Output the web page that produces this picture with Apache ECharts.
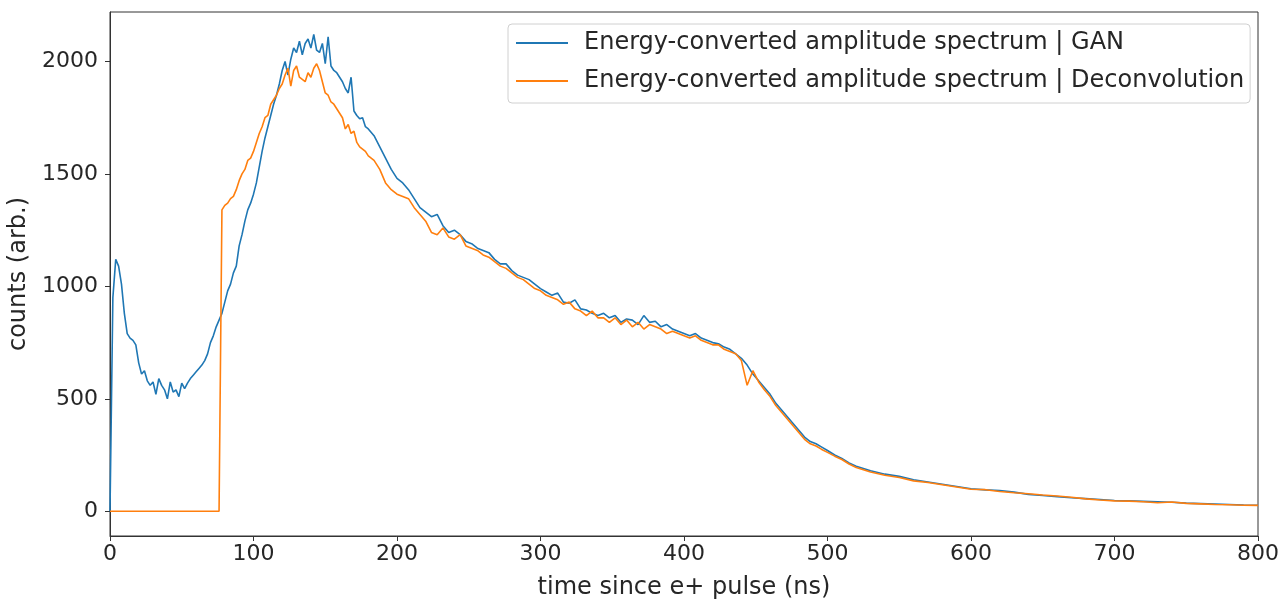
<!DOCTYPE html>
<html>
<head>
<meta charset="utf-8">
<script src="https://cdn.jsdelivr.net/npm/echarts@6/dist/echarts.min.js"></script>
<style>html,body{margin:0;padding:0;background:#fff}#c{width:1286px;height:601px}</style>
</head>
<body>
<div id="c"></div>
<script>
const time = [0,2,4,6,8,10,12,14,16,18,20,22,24,26,28,30,32,34,36,38,40,42,44,46,48,50,52,54,56,58,60,62,64,66,68,70,72,74,76,78,80,82,84,86,88,90,92,94,96,98,100,102,104,106,108,110,112,114,116,118,120,122,124,126,128,130,132,134,136,138,140,142,144,146,148,150,152,154,156,158,160,162,164,166,168,170,172,174,176,178,180,184,188,192,196,200,204,208,212,216,220,224,228,232,236,240,244,248,252,256,260,264,268,272,276,280,284,288,292,296,300,304,308,312,316,320,324,328,332,336,340,344,348,352,356,360,364,368,372,376,380,384,388,392,396,400,404,408,412,416,420,424,428,432,436,440,444,448,452,456,460,464,468,472,476,480,484,488,492,496,500,505,510,515,520,525,530,540,550,560,570,580,590,600,610,620,630,640,650,660,670,680,690,700,710,720,730,740,750,760,770,780,790,800];
const gan = [0,950,1120,1090,1010,880,790,770,760,740,660,610,625,580,560,575,520,590,560,540,500,575,530,540,510,570,545,570,590,605,620,635,650,670,700,750,780,820,850,880,930,980,1010,1060,1090,1180,1230,1290,1340,1370,1410,1460,1530,1600,1660,1710,1760,1810,1850,1900,1960,2000,1940,2010,2060,2040,2090,2030,2080,2100,2060,2120,2050,2040,2080,1990,2110,1980,1960,1950,1930,1910,1880,1860,1930,1780,1760,1745,1750,1710,1700,1670,1620,1570,1520,1480,1460,1430,1390,1350,1330,1310,1320,1270,1240,1250,1230,1200,1190,1170,1160,1150,1120,1100,1100,1070,1050,1040,1030,1010,990,975,960,970,930,925,940,900,895,880,870,880,860,870,840,855,850,830,870,840,845,820,830,810,800,790,780,790,770,760,750,745,730,720,700,680,650,610,580,550,520,480,450,420,390,360,330,310,300,285,270,250,235,215,200,190,180,165,155,140,130,120,110,100,95,92,85,75,70,65,60,56,52,48,46,44,42,40,36,34,32,30,28,27];
const deconv = [0,0,0,0,0,0,0,0,0,0,0,0,0,0,0,0,0,0,0,0,0,0,0,0,0,0,0,0,0,0,0,0,0,0,0,0,0,0,0,1340,1360,1370,1390,1400,1430,1470,1500,1520,1560,1570,1600,1640,1680,1710,1750,1760,1810,1830,1850,1880,1900,1940,1970,1890,1960,1980,1930,1920,1910,1950,1930,1970,1990,1960,1910,1860,1850,1820,1810,1790,1770,1750,1700,1720,1680,1690,1640,1620,1610,1600,1580,1560,1520,1460,1430,1410,1400,1390,1350,1320,1290,1240,1230,1260,1220,1210,1230,1180,1170,1160,1140,1130,1110,1090,1080,1060,1040,1030,1010,990,980,960,950,940,920,930,900,890,870,890,860,860,840,860,830,850,820,840,810,830,820,810,790,800,790,780,770,780,760,750,740,740,720,710,700,670,560,625,575,540,510,470,440,410,380,350,320,300,290,275,262,245,230,210,195,185,175,160,150,135,128,118,108,98,96,88,82,78,72,68,62,55,50,46,45,42,38,41,35,33,30,29,27,26];
const yTicks = [0,500,1000,1500,2000];
const seriesNames = ['Energy-converted amplitude spectrum | GAN','Energy-converted amplitude spectrum | Deconvolution'];

const pair = arr => time.map((t,i)=>[t,arr[i]]);
const font = 'DejaVu Sans';
const txt = '#262626';
const chart = echarts.init(document.getElementById('c'), null, {renderer:'canvas'});
chart.setOption({
  animation:false,
  backgroundColor:'#fff',
  grid:{left:110,right:28,top:12,bottom:65,outerBoundsMode:'none',containLabel:false,show:true,borderColor:'#333',borderWidth:1,backgroundColor:'transparent'},
  legend:{
    left:508, top:24, orient:'vertical',
    data:seriesNames.map(n=>({name:n,icon:'rect'})),
    itemWidth:52, itemHeight:2, itemGap:12,
    padding:[6,6,9,8],
    borderColor:'#d0d0d0', borderWidth:1, borderRadius:4,
    backgroundColor:'rgba(255,255,255,0.8)',
    textStyle:{fontFamily:font,fontSize:24,lineHeight:26,color:txt,padding:[0,0,0,11]}
  },
  xAxis:{
    type:'value', min:0, max:800, interval:100,
    name:'time since e+ pulse (ns)', nameLocation:'middle', nameGap:40,
    nameTextStyle:{fontFamily:font,fontSize:24,color:txt},
    axisLine:{show:true,onZero:false,lineStyle:{color:'#333',width:1}},
    axisTick:{show:true,length:5,lineStyle:{color:'#333'}},
    axisLabel:{fontFamily:font,fontSize:22,color:txt,margin:7,formatter:v=>String(v)},
    splitLine:{show:false}
  },
  yAxis:{
    type:'value', min:-110, max:2220,
    name:'counts (arb.)', nameLocation:'middle', nameGap:77,
    nameTextStyle:{fontFamily:font,fontSize:24,color:txt},
    axisLine:{show:true,onZero:false,lineStyle:{color:'#333',width:1}},
    axisTick:{show:true,length:5,lineStyle:{color:'#333'},customValues:yTicks},
    axisLabel:{fontFamily:font,fontSize:22,color:txt,margin:12,customValues:yTicks,formatter:v=>String(v)},
    splitLine:{show:false}
  },
  series:[
    {name:seriesNames[0],type:'line',data:pair(gan),showSymbol:false,symbol:'none',lineStyle:{color:'#1f77b4',width:1.6},itemStyle:{color:'#1f77b4'}},
    {name:seriesNames[1],type:'line',data:pair(deconv),showSymbol:false,symbol:'none',lineStyle:{color:'#ff7f0e',width:1.6},itemStyle:{color:'#ff7f0e'}}
  ]
});
</script>
</body>
</html>
